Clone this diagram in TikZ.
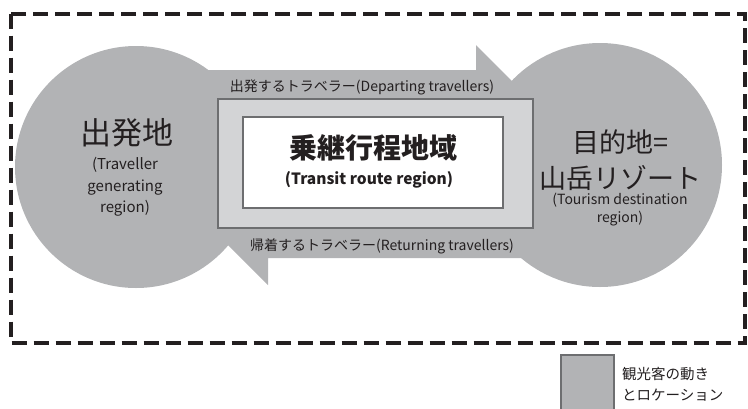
\documentclass[tikz,border=0pt]{standalone}
\usepackage{fontspec}
\setmainfont{Noto Sans CJK JP}
\definecolor{cgray}{HTML}{B2B3B5}
\definecolor{lgray}{HTML}{D3D4D6}
\definecolor{bgray}{HTML}{6D6E70}
\definecolor{ink}{HTML}{231F20}
\tikzset{
  txt/.style={inner sep=0pt, text=ink, align=center},
  boxline/.style={draw=bgray, line width=2.2pt},
}
\begin{document}
\begin{tikzpicture}[x=1pt,y=-1pt]
\useasboundingbox (0,0) rectangle (748,408);
% dashed frame
\draw[ink, line width=4pt, dash pattern=on 15pt off 7pt] (11,13.5) rectangle (745,343);
% gray flow shape with arrowheads
\fill[cgray] (180,70) -- (476,70) -- (476,45) -- (575,144) -- (575,258) -- (268,258) -- (268,285) -- (180,197) -- cycle;
% circles
\fill[cgray] (136,167) circle (121);
\fill[cgray] (600,165) circle (122);
% transit boxes
\draw[boxline, fill=lgray] (218,99) rectangle (533,228);
\draw[boxline, fill=white] (243,117) rectangle (503,208);
% texts
\node[txt, font=\fontsize{14}{16}\selectfont] (dep) at (362,87) {出発するトラベラー(Departing travellers)};
\node[txt, font=\fontsize{14}{16}\selectfont] (ret) at (382,246) {帰着するトラベラー(Returning travellers)};
\node[txt, font=\bfseries\fontsize{28}{32}\selectfont] (tr) at (373,148) {乗継行程地域};
\node[txt, font=\bfseries\fontsize{15.5}{19}\selectfont] (tre) at (369,180) {(Transit route region)};
\node[txt, font=\fontsize{31}{36}\selectfont] (orig) at (127,133) {出発地};
\node[txt, font=\fontsize{15}{21.5}\selectfont] (orige) at (125,187) {(Traveller\\generating\\region)};
\node[txt, font=\fontsize{27}{36}\selectfont] (dest) at (620,160) {目的地=\\山岳リゾート};
\node[txt, font=\fontsize{14}{18.5}\selectfont] (deste) at (620,209.5) {(Tourism destination\\region)};
% legend
\draw[boxline, fill=cgray] (561,355) rectangle (614,412);
\node[txt, anchor=west, align=left, font=\fontsize{14.5}{21}\selectfont] (leg) at (622,384) {観光客の動き\\とロケーション};
\end{tikzpicture}
\end{document}
